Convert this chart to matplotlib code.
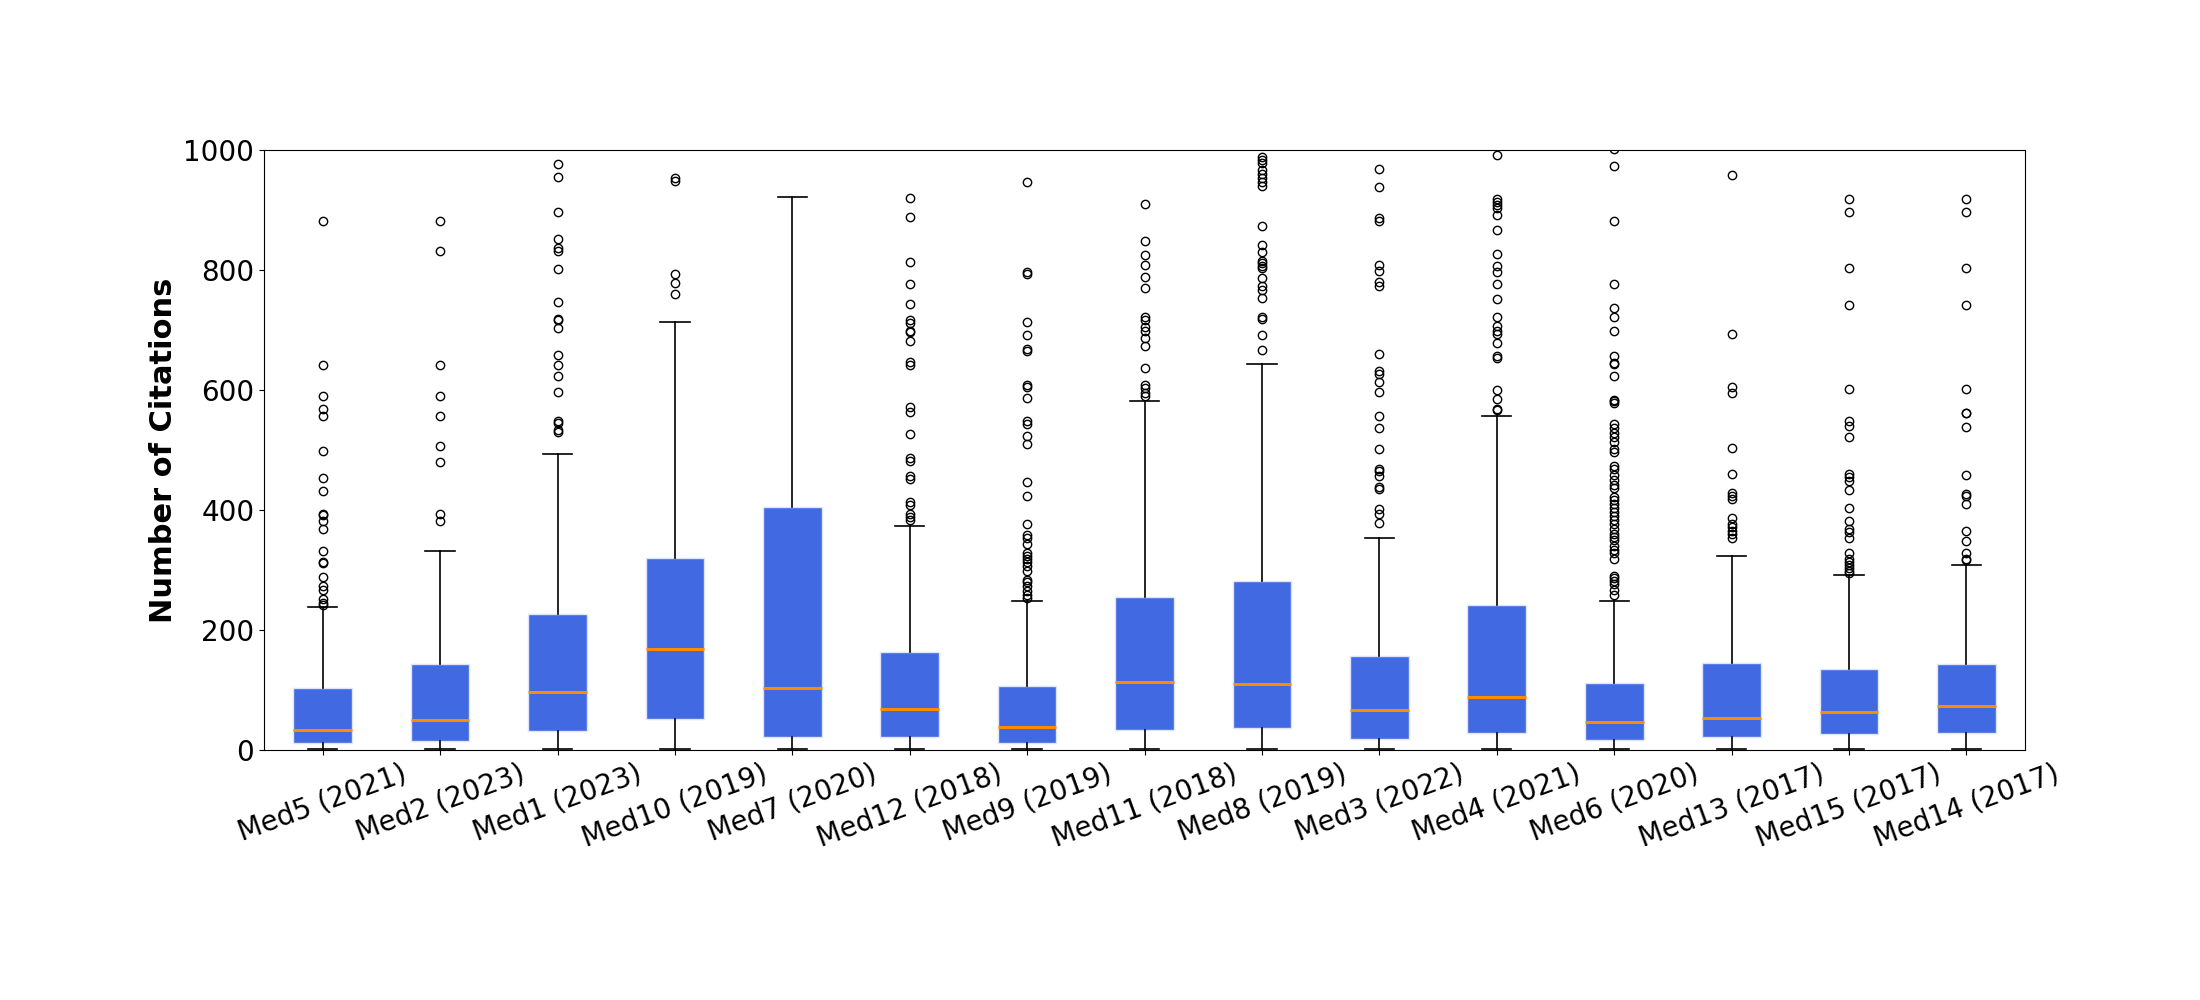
import matplotlib
matplotlib.use("Agg")
import matplotlib.pyplot as plt

# journals / venues (in plotted order)
labels = ["Med5 (2021)", "Med2 (2023)", "Med1 (2023)", "Med10 (2019)", "Med7 (2020)",
          "Med12 (2018)", "Med9 (2019)", "Med11 (2018)", "Med8 (2019)", "Med3 (2022)",
          "Med4 (2021)", "Med6 (2020)", "Med13 (2017)", "Med15 (2017)", "Med14 (2017)"]

# box statistics
q1 = [11, 15, 31, 51, 22, 22, 11, 33, 36, 19, 29, 17, 22, 27, 29]
med = [33, 50, 97, 168, 103, 69, 39, 113, 110, 66, 88, 46, 54, 63, 73]
q3 = [103, 144, 227, 320, 405, 163, 107, 255, 282, 156, 241, 112, 145, 135, 144]
whislo = [1] * 15
whishi = [239, 332, 493, 714, 922, 373, 248, 582, 644, 353, 556, 248, 323, 291, 308]

# outliers per box
fliers = [
    [882, 641, 590, 568, 557, 499, 453, 432, 394, 392, 382, 368, 332, 313, 312,
     289, 273, 267, 251, 245, 241],
    [882, 832, 641, 590, 557, 507, 480, 393, 382],
    [976, 955, 897, 851, 836, 832, 801, 747, 719, 717, 704, 658, 641, 623, 597,
     548, 545, 533, 530],
    [953, 949, 794, 778, 760],
    [],
    [920, 888, 813, 776, 743, 716, 712, 698, 697, 682, 646, 642, 571, 563, 526,
     486, 482, 456, 452, 414, 409, 394, 388, 383],
    [946, 796, 793, 713, 691, 669, 665, 608, 605, 586, 548, 543, 523, 510, 446,
     424, 376, 359, 353, 343, 329, 324, 319, 314, 307, 299, 284, 280, 273, 265,
     258, 254],
    [910, 848, 825, 808, 788, 770, 721, 717, 705, 699, 687, 673, 636, 608, 603,
     595, 590],
    [988, 984, 979, 967, 960, 953, 947, 940, 873, 841, 830, 815, 811, 807, 803,
     786, 773, 766, 754, 721, 718, 691, 667],
    [968, 938, 887, 881, 808, 799, 780, 773, 660, 632, 627, 614, 597, 556, 536,
     501, 469, 465, 457, 439, 435, 401, 394, 378],
    [991, 918, 913, 909, 904, 892, 866, 826, 806, 797, 776, 751, 721, 707, 698,
     694, 678, 656, 654, 600, 585, 569, 567],
    [1001, 973, 881, 776, 737, 722, 699, 656, 645, 644, 623, 584, 581, 578, 543,
     536, 528, 521, 513, 502, 497, 473, 469, 459, 450, 441, 436, 421, 416, 410,
     403, 396, 390, 383, 376, 368, 360, 355, 350, 340, 333, 329, 318, 290, 286,
     282, 277, 266, 258],
    [958, 693, 605, 595, 503, 460, 429, 424, 418, 387, 376, 371, 365, 360, 353],
    [918, 897, 803, 742, 601, 548, 540, 522, 460, 455, 448, 433, 403, 382, 368,
     363, 353, 329, 319, 314, 309, 303, 299, 295],
    [918, 897, 803, 742, 601, 562, 561, 538, 458, 427, 423, 410, 365, 348, 328,
     318, 316],
]

stats = []
for i in range(len(labels)):
    stats.append(dict(label=labels[i], q1=q1[i], med=med[i], q3=q3[i],
                      whislo=whislo[i], whishi=whishi[i], fliers=fliers[i]))

fig = plt.figure(figsize=(22, 10), dpi=100)
ax = fig.add_axes([0.12, 0.25, 0.8005, 0.6])

ax.bxp(stats, patch_artist=True, widths=0.5,
       boxprops=dict(facecolor="royalblue", edgecolor="#dfe5f8", linewidth=1.0),
       medianprops=dict(color="darkorange", linewidth=2.2),
       whiskerprops=dict(color="black", linewidth=1.2),
       capprops=dict(color="black", linewidth=1.2),
       flierprops=dict(marker="o", markerfacecolor="none",
                       markeredgecolor="black", markersize=6))

ax.set_ylim(0, 1000)
ax.set_ylabel("Number of Citations", fontsize=22, fontweight="bold")
ax.tick_params(axis="y", labelsize=20)
ax.tick_params(axis="x", labelsize=20)
plt.setp(ax.get_xticklabels(), rotation=20, ha="center")

fig.savefig("out.png", dpi=100, facecolor="white")
